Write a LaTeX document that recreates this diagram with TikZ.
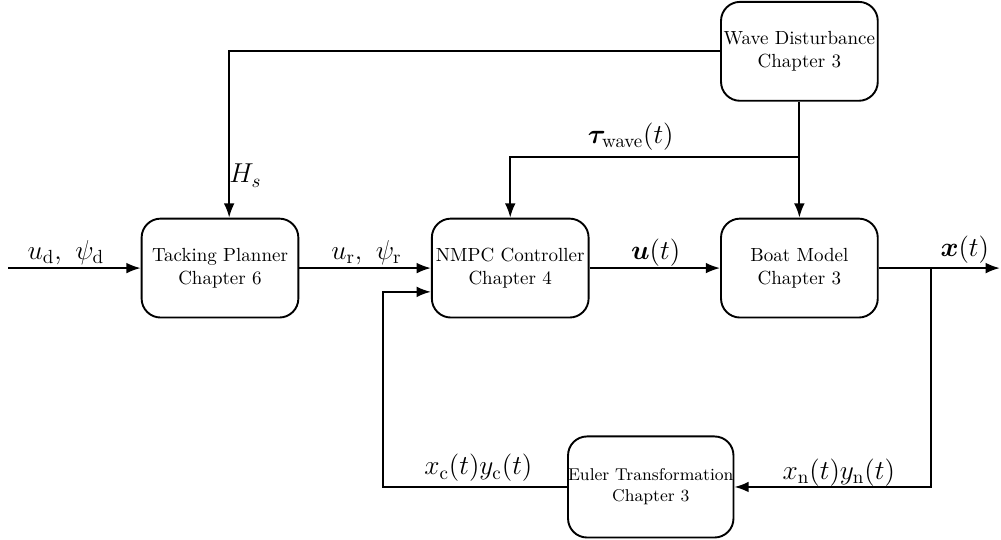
\documentclass[tikz,border=0pt]{standalone}
\usepackage{amsmath}
\usepackage{bm}
\usepackage{tikz}
\usetikzlibrary{arrows.meta}
\usetikzlibrary{calc}
\tikzset{block/.style={draw=black, line width=1pt, rounded corners=10pt, minimum width=2.9cm, minimum height=1.83cm, align=center, inner sep=0pt},
%signal labels are larger than the block text
sig/.style={font=\Large, inner sep=0pt}}

\begin{document}
\begin{tikzpicture}[>=Latex, line width=1pt]
\useasboundingbox (0,0) rectangle (18.52,9.99);
%\draw [help lines] (0,0) grid (19,10);
% blocks
\node[block] (wave) at (14.79,9.04) {Wave Disturbance\\Chapter 3};
\node[block] (tp) at (4.07,5.03) {Tacking Planner\\Chapter 6};
\node[block] (nmpc) at (9.44,5.03) {NMPC Controller\\Chapter 4};
\node[block] (boat) at (14.79,5.03) {Boat Model\\Chapter 3};
\node[block, font=\small, minimum width=3.03cm, minimum height=1.87cm] (euler) at (12.04,0.98) {Euler Transformation\\Chapter 3};

% free ends and branch points
\coordinate (in) at (0.15,5.03);
\coordinate (out) at (18.5,5.03);
\coordinate (split) at (17.22,5.03);
\coordinate (fb) at (7.09,4.59);
\coordinate (tau) at (14.79,7.09);

% forward path
\draw[->] (in) -- (tp.west);
\draw[->] (tp.east) -- (nmpc.west);
\draw[->] (nmpc.east) -- (boat.west);
\draw[->] (boat.east) -- (out);

% feedback
\draw[->] (split) |- (euler.east);
\draw[->] (euler.west) -| (fb) -- (fb -| nmpc.west);

% disturbance
\draw[->] (wave.south) -- (boat.north);
\draw[->] (tau) -| (nmpc.north);
\draw[->] (wave.west) -| ($(tp.north)+(0.17,0)$);

%labels
\node[sig] (ud) at (1.22,5.31) {$u_{\mathrm{d}},\ \psi_{\mathrm{d}}$};
\node[sig] (ur) at (6.78,5.31) {$u_{\mathrm{r}},\ \psi_{\mathrm{r}}$};
\node[sig] (u) at (12.13,5.31) {$\bm{u}(t)$};
\node[sig] (x) at (17.85,5.37) {$\bm{x}(t)$};
\node[sig] (xn) at (15.52,1.24) {$x_{\mathrm{n}}(t)y_{\mathrm{n}}(t)$};
\node[sig] (xc) at (8.85,1.33) {$x_{\mathrm{c}}(t)y_{\mathrm{c}}(t)$};
\node[sig] (tw) at (11.67,7.46) {$\bm{\tau}_{\mathrm{wave}}(t)$};
\node[sig] (hs) at (4.54,6.74) {$H_s$};

\end{tikzpicture}
\end{document}
